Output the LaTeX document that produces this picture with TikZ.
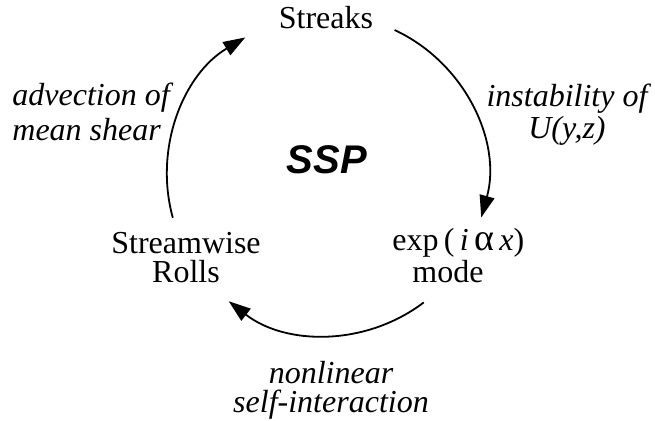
\documentclass[tikz,border=0pt]{standalone}
\usepackage{fontspec}
\setmainfont{Liberation Serif}
\newfontfamily\headfont{Liberation Sans}
\usetikzlibrary{arrows.meta}

\begin{document}
\begin{tikzpicture}[
    x=0.5pt, y=-0.5pt,
    stagebox/.style={inner sep=0pt, font=\fontsize{16}{14.5}\selectfont},
    procbox/.style={inner sep=0pt, font=\fontsize{16}{14.5}\selectfont\itshape},
    cycarrow/.style={line width=0.9pt, -{Triangle[length=11pt,width=7.5pt]}}
]
\useasboundingbox (0,0) rectangle (655,420);

% Centre of the cycle
\coordinate (c) at (327,175);

% Stages (base = last line)
\node[stagebox, anchor=base] (streaks) at (326,28) {Streaks};
\node[stagebox, anchor=base west, align=left] (mode) at (392,282)
    {exp\,(\,\textit{i}\,{\fontsize{19}{14.5}\selectfont α}\,\textit{x})\\\hspace*{10pt}mode};
\node[stagebox, anchor=base, align=center] (rolls) at (186,282)
    {Streamwise\\Rolls};

% Processes
\node[procbox, anchor=base west, align=left, font=\fontsize{16}{17.5}\selectfont\itshape] (advect) at (12,140)
    {advection of\\mean shear};
\node[procbox, anchor=base, align=center] (instab) at (567,138)
    {instability of\\U(y,z)};
\node[procbox, anchor=base, align=center] (nonlin) at (331,412)
    {nonlinear\\self-interaction};

\node[inner sep=0pt, anchor=base, font=\headfont\fontsize{20}{20}\selectfont\bfseries\itshape] (ssp) at (327,173) {SSP};

% Arrows round the cycle
\draw[cycarrow] ([shift={(-65:160)}]c) arc[start angle=-65, end angle=15.4, radius=160];
\draw[cycarrow] ([shift={(52.8:160)}]c) arc[start angle=52.8, end angle=127.9, radius=160];
\draw[cycarrow] ([shift={(164.5:160)}]c) arc[start angle=164.5, end angle=239.3, radius=160];

\end{tikzpicture}
\end{document}
